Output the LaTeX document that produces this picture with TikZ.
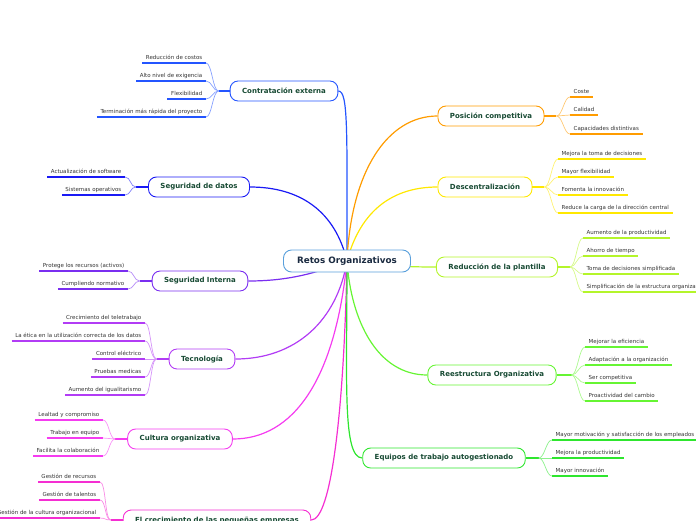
\documentclass[tikz,border=0pt]{standalone}
\usepackage{fontspec}
\setmainfont{DejaVu Sans}
\usetikzlibrary{backgrounds}
\definecolor{RootBlue}{HTML}{5AA0DC}
\definecolor{RootInk}{HTML}{1A2A40}
\definecolor{NodeInk}{HTML}{174A33}
\definecolor{LeafInk}{HTML}{333333}
\definecolor{Contr}{HTML}{2455FF}
\definecolor{Sdat}{HTML}{1A1AF5}
\definecolor{Sint}{HTML}{7A2EF0}
\definecolor{Tecno}{HTML}{B23CF5}
\definecolor{Cult}{HTML}{F53CF0}
\definecolor{Crec}{HTML}{F52ED2}
\definecolor{Pos}{HTML}{FF9C00}
\definecolor{Desc}{HTML}{FFE800}
\definecolor{Redu}{HTML}{B4F52A}
\definecolor{Rees}{HTML}{66F533}
\definecolor{Equi}{HTML}{2EE62E}
\begin{document}
\begin{tikzpicture}[x=1pt,y=-1pt,
      root/.style={draw=RootBlue,fill=white,rounded corners=8pt,line width=0.9pt,
                   text=RootInk,font=\fontsize{8.8}{10}\selectfont\bfseries,
                   minimum width=127pt,minimum height=22pt},
      branch/.style={fill=white,rounded corners=8pt,line width=0.9pt,
                     text=NodeInk,font=\fontsize{7}{8}\selectfont\bfseries,
                     inner xsep=12pt,minimum height=20pt},
      leafL/.style={anchor=south east,text=LeafInk,font=\fontsize{5.5}{6}\selectfont,
                    inner xsep=3.5pt,inner ysep=2pt,text depth=1.2pt},
      leafR/.style={leafL,anchor=south west},
      trunk/.style={line width=1.2pt},
      twig/.style={line width=0.7pt},
      leafline/.style={line width=1.8pt}]
    \useasboundingbox (0,0) rectangle (696,520);
    \clip (0,0) rectangle (696,520);
    \node[root] (root) at (347,261) {Retos Organizativos};
    % left side
    \node[branch,draw=Contr] (contr) at (284,91) {Contratación externa};
    \coordinate (jcontr) at ([xshift=-11pt]contr.west);
    \draw[Contr,trunk] (contr.west) -- (jcontr);
    \foreach \y/\t [count=\i] in {63/Reducción de costos,81/Alto nivel de exigencia,
        99/Flexibilidad,117/Terminación más rápida del proyecto}{
      \node[leafL] (contr\i) at (206,\y) {\t};
      \draw[Contr,leafline] (contr\i.south west) -- (contr\i.south east);
      \draw[Contr!55,twig] (jcontr) .. controls +(-6,0) and +(6,0) .. (contr\i.south east);
    }
    \node[branch,draw=Sdat] (sdat) at (199,187) {Seguridad de datos};
    \coordinate (jsdat) at ([xshift=-12pt]sdat.west);
    \draw[Sdat,trunk] (sdat.west) -- (jsdat);
    \foreach \y/\t [count=\i] in {177/Actualización de software,195/Sistemas operativos}{
      \node[leafL] (sdat\i) at (125,\y) {\t};
      \draw[Sdat,leafline] (sdat\i.south west) -- (sdat\i.south east);
      \draw[Sdat!55,twig] (jsdat) .. controls +(-6,0) and +(6,0) .. (sdat\i.south east);
    }
    \node[branch,draw=Sint] (sint) at (200,281) {Seguridad Interna};
    \coordinate (jsint) at ([xshift=-12pt]sint.west);
    \draw[Sint,trunk] (sint.west) -- (jsint);
    \foreach \y/\t [count=\i] in {271/Protege los recursos (activos),289/Cumpliendo normativo}{
      \node[leafL] (sint\i) at (128,\y) {\t};
      \draw[Sint,leafline] (sint\i.south west) -- (sint\i.south east);
      \draw[Sint!55,twig] (jsint) .. controls +(-6,0) and +(6,0) .. (sint\i.south east);
    }
    \node[branch,draw=Tecno] (tecno) at (202,359) {Tecnología};
    \coordinate (jtecno) at ([xshift=-12pt]tecno.west);
    \draw[Tecno,trunk] (tecno.west) -- (jtecno);
    \foreach \y/\t [count=\i] in {323/Crecimiento del teletrabajo,
        341/La ética en la utilización correcta de los datos,359/Control eléctrico,
        377/Pruebas medicas,395/Aumento del igualitarismo}{
      \node[leafL] (tecno\i) at (145,\y) {\t};
      \draw[Tecno,leafline] (tecno\i.south west) -- (tecno\i.south east);
      \draw[Tecno!55,twig] (jtecno) .. controls +(-6,0) and +(6,0) .. (tecno\i.south east);
    }
    \node[branch,draw=Cult] (cult) at (180,439) {Cultura organizativa};
    \coordinate (jcult) at ([xshift=-12pt]cult.west);
    \draw[Cult,trunk] (cult.west) -- (jcult);
    \foreach \y/\t [count=\i] in {420/Lealtad y compromiso,438/Trabajo en equipo,
        456/Facilita la colaboración}{
      \node[leafL] (cult\i) at (103,\y) {\t};
      \draw[Cult,leafline] (cult\i.south west) -- (cult\i.south east);
      \draw[Cult!55,twig] (jcult) .. controls +(-6,0) and +(6,0) .. (cult\i.south east);
    }
    \node[branch,draw=Crec] (crec) at (217,520) {El crecimiento de las pequeñas empresas};
    \coordinate (jcrec) at ([xshift=-12pt]crec.west);
    \draw[Crec,trunk] (crec.west) -- (jcrec);
    \foreach \y/\t [count=\i] in {482/Gestión de recursos,500/Gestión de talentos,
        518/Gestión de la cultura organizacional}{
      \node[leafL] (crec\i) at (100,\y) {\t};
      \draw[Crec,leafline] (crec\i.south west) -- (crec\i.south east);
      \draw[Crec!55,twig] (jcrec) .. controls +(-6,0) and +(6,0) .. (crec\i.south east);
    }
    % right side
    \node[branch,draw=Pos] (pos) at (491,116) {Posición competitiva};
    \coordinate (jpos) at ([xshift=12pt]pos.east);
    \draw[Pos,trunk] (pos.east) -- (jpos);
    \foreach \y/\t [count=\i] in {97/Coste,115/Calidad,134/Capacidades distintivas}{
      \node[leafR] (pos\i) at (570,\y) {\t};
      \draw[Pos,leafline] (pos\i.south west) -- (pos\i.south east);
      \draw[Pos!55,twig] (jpos) .. controls +(6,0) and +(-6,0) .. (pos\i.south west);
    }
    \node[branch,draw=Desc] (desc) at (485,187) {Descentralización};
    \coordinate (jdesc) at ([xshift=12pt]desc.east);
    \draw[Desc,trunk] (desc.east) -- (jdesc);
    \foreach \y/\t [count=\i] in {159/Mejora la toma de decisiones,177/Mayor flexibilidad,
        195/Fomenta la innovación,213/Reduce la carga de la dirección central}{
      \node[leafR] (desc\i) at (558,\y) {\t};
      \draw[Desc,leafline] (desc\i.south west) -- (desc\i.south east);
      \draw[Desc!55,twig] (jdesc) .. controls +(6,0) and +(-6,0) .. (desc\i.south west);
    }
    \node[branch,draw=Redu] (redu) at (497,267) {Reducción de la plantilla};
    \coordinate (jredu) at ([xshift=12pt]redu.east);
    \draw[Redu,trunk] (redu.east) -- (jredu);
    \foreach \y/\t [count=\i] in {238/Aumento de la productividad,256/Ahorro de tiempo,
        274/Toma de decisiones simplificada,292/Simplificación de la estructura organizativa}{
      \node[leafR] (redu\i) at (583,\y) {\t};
      \draw[Redu,leafline] (redu\i.south west) -- (redu\i.south east);
      \draw[Redu!55,twig] (jredu) .. controls +(6,0) and +(-6,0) .. (redu\i.south west);
    }
    \node[branch,draw=Rees] (rees) at (492,375) {Reestructura Organizativa};
    \coordinate (jrees) at ([xshift=15pt]rees.east);
    \draw[Rees,trunk] (rees.east) -- (jrees);
    \foreach \y/\t [count=\i] in {347/Mejorar la eficiencia,365/Adaptación a la organización,
        383/Ser competitiva,401/Proactividad del cambio}{
      \node[leafR] (rees\i) at (585,\y) {\t};
      \draw[Rees,leafline] (rees\i.south west) -- (rees\i.south east);
      \draw[Rees!55,twig] (jrees) .. controls +(6,0) and +(-6,0) .. (rees\i.south west);
    }
    \node[branch,draw=Equi] (equi) at (444,458) {Equipos de trabajo autogestionado};
    \coordinate (jequi) at ([xshift=13pt]equi.east);
    \draw[Equi,trunk] (equi.east) -- (jequi);
    \foreach \y/\t [count=\i] in {440/Mayor motivación y satisfacción de los empleados,
        458/Mejora la productividad,476/Mayor innovación}{
      \node[leafR] (equi\i) at (552,\y) {\t};
      \draw[Equi,leafline] (equi\i.south west) -- (equi\i.south east);
      \draw[Equi!55,twig] (jequi) .. controls +(6,0) and +(-6,0) .. (equi\i.south west);
    }
    % trunks from the root
    \begin{scope}[on background layer]
      \draw[Contr,trunk] (root.center) .. controls +(0,-130) and +(10,0) .. (contr.east);
      \draw[Sdat,trunk] (root.center) .. controls +(-12,-50) and +(50,0) .. (sdat.east);
      \draw[Sint,trunk] (root.center) .. controls +(-30,12) and +(40,0) .. (sint.east);
      \draw[Tecno,trunk] (root.center) .. controls +(-10,60) and +(60,0) .. (tecno.east);
      \draw[Cult,trunk] (root.center) .. controls +(-12,120) and +(60,0) .. (cult.east);
      \draw[Crec,trunk] (root.center) .. controls +(-3,150) and +(20,0) .. (crec.east);
      \draw[Pos,trunk] (root.center) .. controls +(4,-90) and +(-50,0) .. (pos.west);
      \draw[Desc,trunk] (root.center) .. controls +(12,-45) and +(-50,0) .. (desc.west);
      \draw[Redu,trunk] (root.center) .. controls +(40,4) and +(-40,0) .. (redu.west);
      \draw[Rees,trunk] (root.center) .. controls +(4,60) and +(-50,0) .. (rees.west);
      \draw[Equi,trunk] (root.center) .. controls +(0,120) and +(-20,0) .. (equi.west);
    \end{scope}
\end{tikzpicture}
\end{document}
